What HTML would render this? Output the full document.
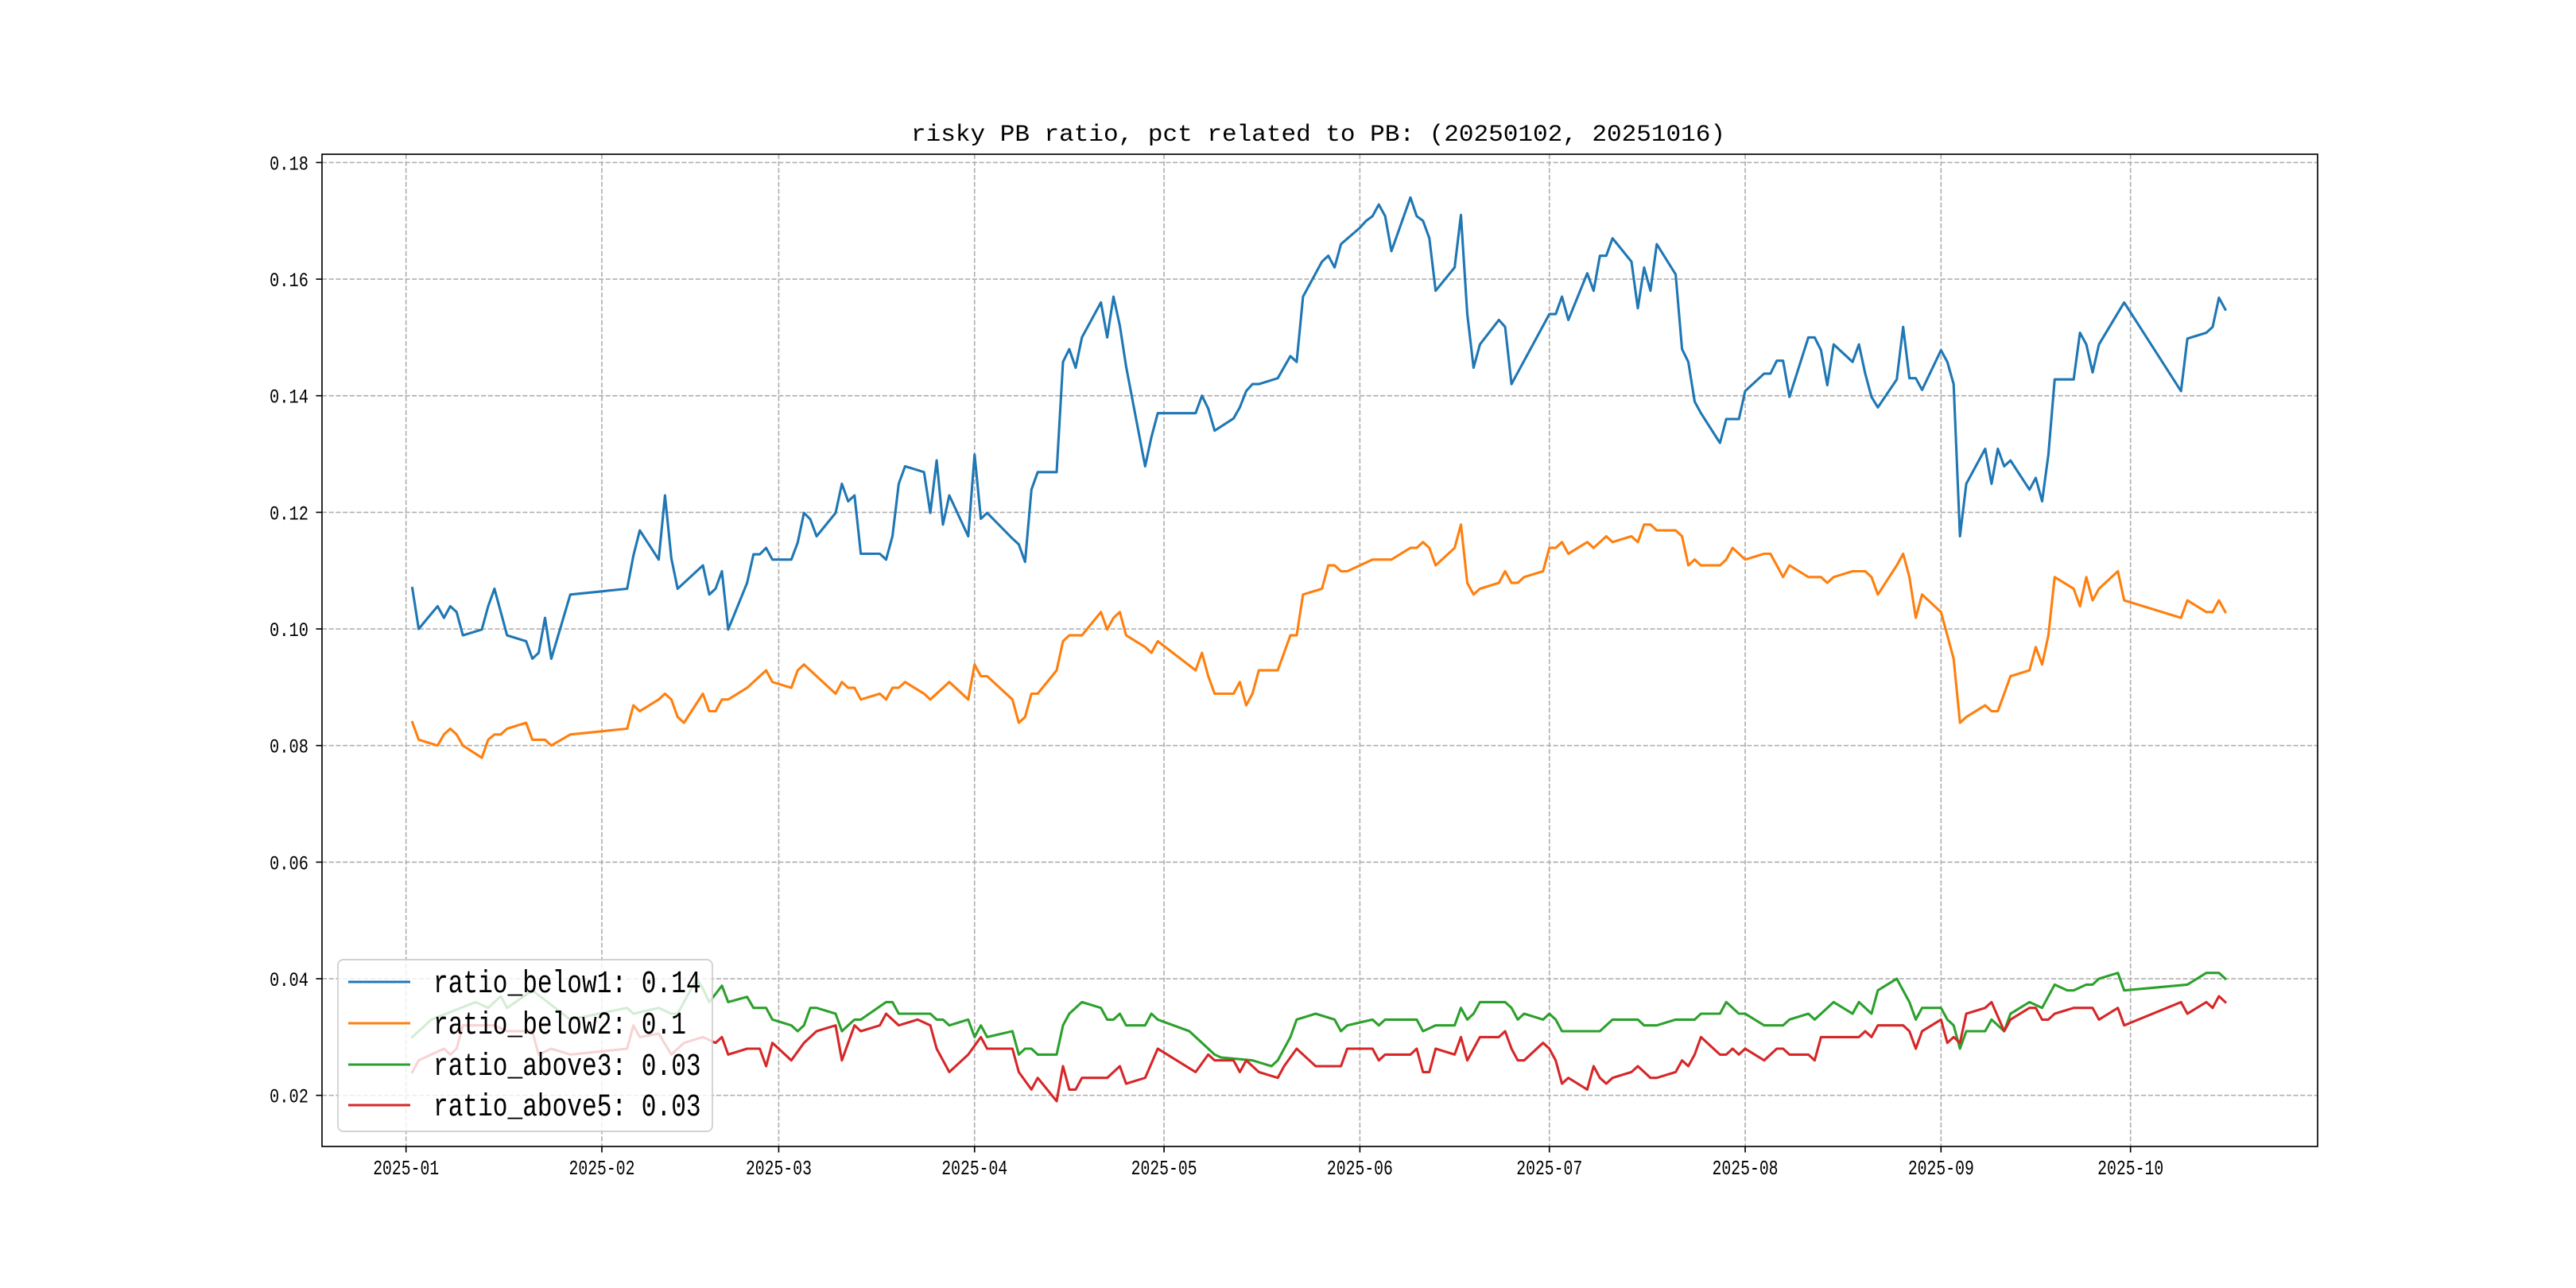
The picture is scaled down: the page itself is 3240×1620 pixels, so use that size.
<!DOCTYPE html>
<html><head><meta charset="utf-8"><title>risky PB ratio</title>
<style>html,body{margin:0;padding:0;background:#fff;}svg{display:block;}</style>
</head><body>
<svg id="chart" xmlns="http://www.w3.org/2000/svg" width="3240" height="1620" viewBox="0 0 3240 1620">
<rect x="0" y="0" width="3240" height="1620" fill="#fff"/>
<text x="1146" y="177" font-family="'Liberation Mono', monospace" font-size="30" textLength="1024" lengthAdjust="spacingAndGlyphs" fill="#000">risky PB ratio, pct related to PB: (20250102, 20251016)</text>
<g id="grid"></g><g id="series"></g><g id="axes"></g><g id="legend"></g>
</svg>
<script>
const tickMonthDays = [0,31,59,90,120,151,181,212,243,273];
const tickMonthLabels = ['2025-01','2025-02','2025-03','2025-04','2025-05','2025-06','2025-07','2025-08','2025-09','2025-10'];
const yTickValues = [0.02,0.04,0.06,0.08,0.10,0.12,0.14,0.16,0.18];
const yTickLabels = ['0.02','0.04','0.06','0.08','0.10','0.12','0.14','0.16','0.18'];
const seriesNames = ['ratio_below1','ratio_below2','ratio_above3','ratio_above5'];
const legendValues = ['0.14','0.1','0.03','0.03'];

const below1Days = [1,2,3,5,6,7,8,9,12,13,14,16,19,20,21,22,23,26,35,36,37,40,41,42,43,47,48,49,50,51,54,55,56,57,58,61,62,63,64,65,68,69,70,71,72,75,76,77,78,79,82,83,84,85,86,89,90,91,92,96,97,98,99,100,103,104,105,106,107,110,111,112,113,114,117,118,119,125,126,127,128,131,132,133,134,135,138,140,141,142,145,146,147,148,151,152,153,154,155,156,159,160,161,162,163,166,167,168,169,170,173,174,175,181,182,183,184,187,188,189,190,191,194,195,196,197,198,201,202,203,204,205,208,209,211,212,215,216,217,218,219,222,223,224,225,226,229,230,231,232,233,236,237,238,239,240,243,244,245,246,247,250,251,252,253,254,257,258,259,260,261,264,265,266,267,268,272,281,282,285,286,287,288];
const below1Vals = [.107,.100,.1013,.1039,.1019,.1039,.1029,.0989,.0999,.1039,.1069,.0989,.0979,.0949,.0959,.1019,.0949,.1059,.1069,.1126,.1169,.1119,.1229,.1121,.1069,.1109,.1059,.1069,.1099,.0999,.1079,.1128,.1128,.1139,.1119,.1119,.1148,.1199,.1188,.1159,.1199,.1249,.1219,.1229,.1129,.1129,.1119,.1159,.1249,.1279,.1269,.1199,.1289,.1179,.1229,.1159,.1299,.1189,.1199,.1155,.1145,.1115,.1239,.1269,.1269,.1458,.148,.1448,.15,.156,.15,.157,.152,.145,.1279,.1329,.137,.137,.14,.1378,.134,.1361,.138,.1408,.142,.142,.143,.1468,.1458,.157,.163,.164,.162,.166,.1688,.17,.1708,.1728,.1708,.1648,.174,.1708,.17,.167,.158,.162,.171,.154,.1448,.1488,.153,.1518,.142,.154,.154,.157,.153,.161,.158,.164,.164,.167,.163,.155,.162,.158,.166,.1608,.148,.1458,.139,.137,.1319,.136,.136,.1408,.1438,.1438,.146,.146,.1398,.15,.15,.1478,.1418,.1488,.1458,.1488,.1438,.1398,.138,.1428,.1518,.143,.143,.141,.1478,.1458,.142,.1159,.1249,.1309,.1249,.1309,.1279,.1289,.1239,.1259,.1219,.1299,.1428,.1428,.1508,.1488,.144,.1488,.156,.1408,.1498,.1508,.1518,.1568,.1548];

const below2Days = [1,2,5,6,7,8,9,12,13,14,15,16,19,20,22,23,26,35,36,37,40,41,42,43,44,47,48,49,50,51,54,57,58,61,62,63,68,69,70,71,72,75,76,77,78,79,82,83,86,89,90,91,92,96,97,98,99,100,103,104,105,107,110,111,112,113,114,117,118,119,125,126,127,128,131,132,133,134,135,138,140,141,142,145,146,147,148,149,153,156,159,160,161,162,163,166,167,168,169,170,173,174,175,176,177,180,181,182,183,184,187,188,190,191,194,195,196,197,198,201,202,203,204,205,208,209,210,212,215,216,217,218,219,222,224,225,226,229,231,232,233,236,237,238,239,240,243,244,245,246,247,250,251,252,253,254,257,258,259,260,261,264,265,266,267,268,271,272,281,282,285,286,287,288];
const below2Vals = [.084,.081,.080,.0819,.0829,.0819,.080,.0779,.081,.0819,.0819,.0829,.0839,.081,.081,.080,.0819,.0829,.0869,.0859,.0879,.0889,.0879,.0849,.0839,.0889,.0859,.0859,.0879,.0879,.0899,.0929,.0909,.0899,.0929,.0939,.0889,.0909,.0899,.0899,.0879,.0889,.0879,.0899,.0899,.0909,.0889,.0879,.0909,.0879,.0939,.0919,.0919,.0879,.0839,.0849,.0889,.0889,.0929,.0979,.0989,.0989,.1029,.0999,.1019,.1029,.0989,.0969,.0959,.0979,.0929,.0959,.0919,.0889,.0889,.0909,.0869,.0889,.0929,.0929,.0989,.0989,.1059,.1069,.1109,.1109,.1099,.1099,.1119,.1119,.1139,.1139,.1149,.1139,.1109,.1139,.1179,.1079,.1059,.1069,.1079,.1099,.1079,.1079,.1089,.1099,.1139,.1139,.1149,.1129,.1149,.1139,.1159,.1149,.1159,.1149,.1179,.1179,.1169,.1169,.1159,.1109,.1119,.1109,.1109,.1119,.1139,.1119,.1129,.1129,.1109,.1089,.1109,.1089,.1089,.1079,.1089,.1099,.1099,.1089,.1059,.1109,.1129,.1089,.1019,.1059,.1029,.0989,.0949,.0839,.0849,.0869,.0859,.0859,.0889,.0919,.0929,.0969,.0939,.0989,.1089,.1069,.1039,.1089,.1049,.1069,.1099,.1049,.1019,.1049,.1029,.1029,.1049,.1029];

const above3Days = [1,4,11,13,14,15,16,20,26,35,36,40,42,43,46,47,48,50,51,54,55,57,58,61,62,63,64,65,68,69,70,71,72,76,77,78,83,84,85,86,89,90,91,92,96,97,98,99,100,103,104,105,107,110,111,112,113,114,117,118,119,124,126,128,129,134,137,138,140,141,144,147,148,149,153,154,155,160,161,163,166,167,168,169,170,174,175,176,177,180,181,182,183,189,191,195,196,198,201,204,205,208,209,211,212,215,218,219,222,223,226,229,230,232,233,236,238,239,240,243,244,245,246,247,250,251,253,254,257,259,261,263,264,266,267,268,271,272,282,285,287,288];
const above3Vals = [.030,.033,.036,.035,.036,.037,.035,.038,.033,.035,.034,.035,.034,.034,.040,.0383,.036,.0388,.036,.0369,.035,.035,.033,.032,.031,.032,.035,.035,.034,.031,.032,.033,.033,.036,.036,.034,.034,.033,.033,.032,.033,.030,.032,.030,.031,.027,.028,.028,.027,.027,.032,.034,.036,.035,.033,.033,.034,.032,.032,.034,.033,.031,.029,.027,.0265,.026,.025,.026,.030,.033,.034,.033,.031,.032,.033,.032,.033,.033,.031,.032,.032,.035,.033,.034,.036,.036,.035,.033,.034,.033,.034,.033,.031,.031,.033,.033,.032,.032,.033,.033,.034,.034,.036,.034,.034,.032,.032,.033,.034,.033,.036,.034,.036,.034,.038,.040,.036,.033,.035,.035,.033,.032,.028,.031,.031,.033,.031,.034,.036,.035,.039,.038,.038,.039,.039,.040,.041,.038,.039,.041,.041,.040];

const above5Days = [1,2,6,7,8,9,14,16,20,21,23,26,35,36,37,40,42,44,47,49,50,51,54,56,57,58,61,63,65,68,69,71,72,75,76,78,81,83,84,86,89,91,92,96,97,99,100,103,104,105,106,107,111,113,114,117,119,125,127,128,131,132,133,135,138,139,141,144,147,148,149,153,154,155,159,160,161,162,163,166,167,168,170,173,174,175,176,177,180,181,182,183,184,187,188,189,190,191,194,195,197,198,201,202,203,204,205,208,209,210,211,212,215,217,218,219,222,223,224,230,231,232,233,237,238,239,240,243,244,245,246,247,250,251,253,254,257,258,259,260,261,264,267,268,271,272,281,282,285,286,287,288];
const above5Vals = [.024,.026,.028,.027,.028,.032,.032,.031,.031,.027,.028,.027,.028,.032,.030,.0306,.027,.029,.030,.029,.030,.027,.028,.028,.025,.029,.026,.029,.031,.032,.026,.032,.031,.032,.034,.032,.033,.032,.028,.024,.027,.030,.028,.028,.024,.021,.023,.019,.025,.021,.021,.023,.023,.025,.022,.023,.028,.024,.027,.026,.026,.024,.026,.024,.023,.025,.028,.025,.025,.025,.028,.028,.026,.027,.027,.028,.024,.024,.028,.027,.030,.026,.030,.030,.031,.028,.026,.026,.029,.028,.026,.022,.023,.021,.025,.023,.022,.023,.024,.025,.023,.023,.024,.026,.025,.027,.030,.027,.027,.028,.027,.028,.026,.028,.028,.027,.027,.026,.030,.030,.031,.030,.032,.032,.031,.028,.031,.033,.029,.030,.029,.034,.035,.036,.031,.033,.035,.035,.033,.033,.034,.035,.035,.033,.035,.032,.036,.034,.036,.035,.037,.036];

const seriesColors = ['#1f77b4','#ff7f0e','#2ca02c','#d62728'];
const NS = 'http://www.w3.org/2000/svg';
const AX = {left:405, right:2915, top:194, bottom:1442};
function xScale(d){ return 510.7 + d*7.945; }
function yScale(v){ return 1377.7 - (v-0.02)*7333; }
function mk(tag, attrs, parent){ const e=document.createElementNS(NS,tag); for(const k in attrs) e.setAttribute(k,attrs[k]); parent.appendChild(e); return e; }

const grid=document.getElementById('grid'), ser=document.getElementById('series'), axes=document.getElementById('axes'), leg=document.getElementById('legend');
const gridStyle={stroke:'#b0b0b0','stroke-width':1.65,'stroke-dasharray':'6.1,2.6',fill:'none'};
const mono="'Liberation Mono', monospace";

tickMonthDays.forEach((d,i)=>{
  const x=xScale(d);
  const gl=mk('line',Object.assign({x1:x,x2:x,y1:AX.top,y2:AX.bottom},gridStyle),grid);
  
  
  const tk=mk('line',{x1:x,x2:x,y1:AX.bottom,y2:AX.bottom+7.5,stroke:'#000','stroke-width':1.65},axes);
  
  
  const t=mk('text',{x:x,y:1477,'text-anchor':'middle','font-family':mono,'font-size':26,textLength:83,lengthAdjust:'spacingAndGlyphs',fill:'#000'},axes);
  t.textContent=tickMonthLabels[i];
  
  
});
yTickValues.forEach((v,i)=>{
  const y=yScale(v);
  const gl=mk('line',Object.assign({x1:AX.left,x2:AX.right,y1:y,y2:y},gridStyle),grid);
  
  
  const tk=mk('line',{x1:AX.left-7.5,x2:AX.left,y1:y,y2:y,stroke:'#000','stroke-width':1.65},axes);
  
  
  const t=mk('text',{x:388,y:y+9,'text-anchor':'end','font-family':mono,'font-size':25,textLength:49,lengthAdjust:'spacingAndGlyphs',fill:'#000'},axes);
  t.textContent=yTickLabels[i];
  
  
});

const allDays=[below1Days,below2Days,above3Days,above5Days];
const allVals=[below1Vals,below2Vals,above3Vals,above5Vals];
allDays.forEach((days,s)=>{
  const vals=allVals[s];
  const pts=days.map((d,i)=>xScale(d).toFixed(1)+','+yScale(vals[i]).toFixed(1)).join(' ');
  const pl=mk('polyline',{points:pts,fill:'none',stroke:seriesColors[s],'stroke-width':3.1,'stroke-linejoin':'round','stroke-linecap':'square'},ser);
  
  
});

const frame=mk('rect',{x:AX.left,y:AX.top,width:AX.right-AX.left,height:AX.bottom-AX.top,fill:'none',stroke:'#000','stroke-width':1.65},axes);



const lb=mk('rect',{x:425,y:1207,width:471,height:216,rx:7,fill:'#fff','fill-opacity':0.8,stroke:'#cccccc','stroke-width':1.65},leg);


const lineYs=[1235,1287,1339,1390];
seriesNames.forEach((n,i)=>{
  const ly=lineYs[i];
  const g=mk('g',{},leg);
  
  
  mk('line',{x1:438,x2:516,y1:ly,y2:ly,stroke:seriesColors[i],'stroke-width':3.1},g);
  const t=mk('text',{x:545,y:ly+13,'font-family':mono,'font-size':40,textLength:(n+': '+legendValues[i]).length*18.7,lengthAdjust:'spacingAndGlyphs',fill:'#000'},g);
  t.textContent=n+': '+legendValues[i];
});
</script>
</body></html>
